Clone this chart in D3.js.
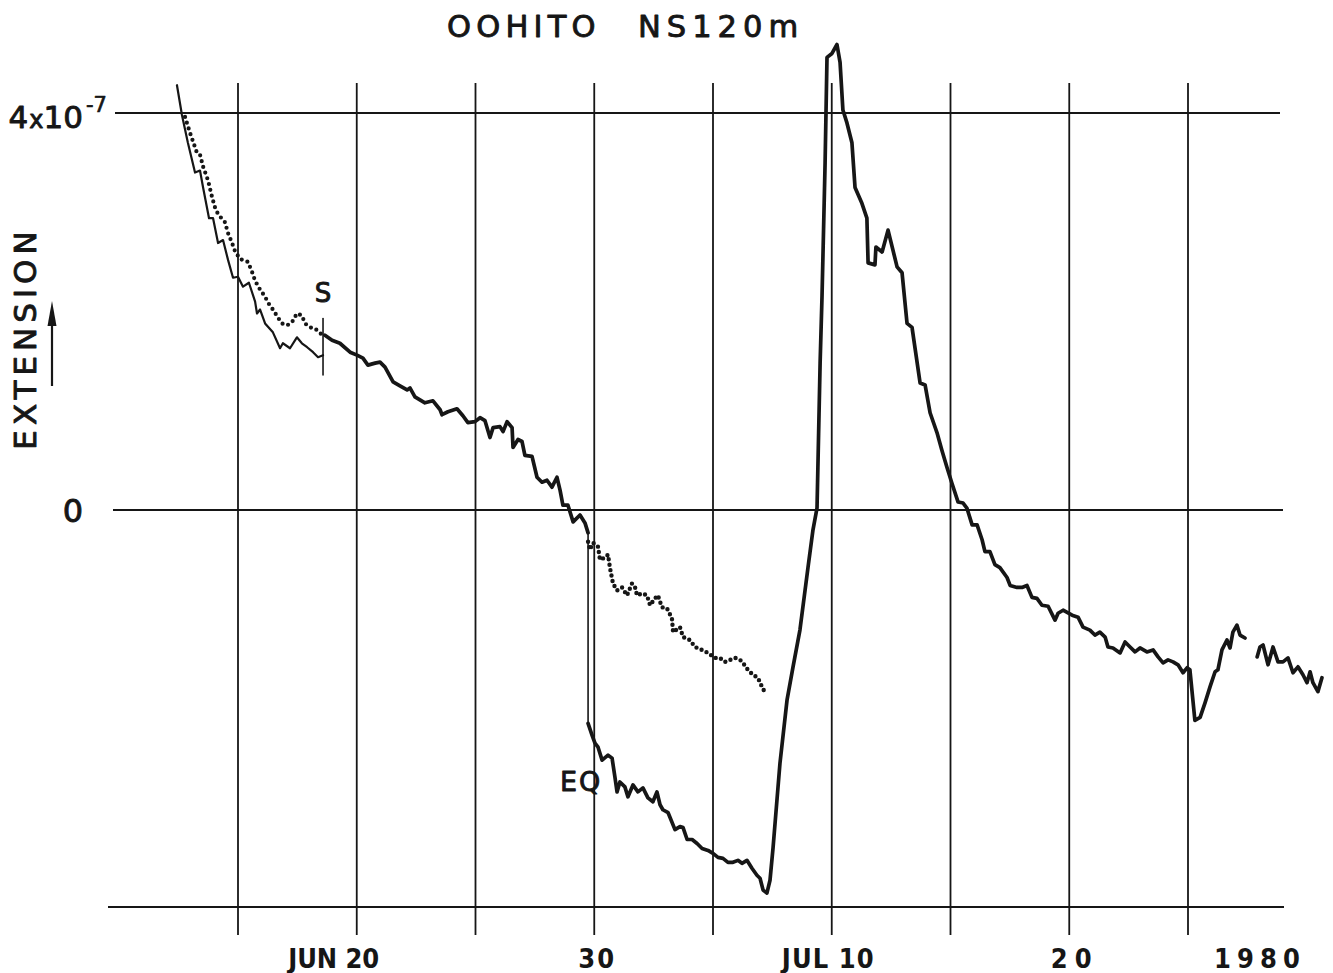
<!DOCTYPE html>
<html><head><meta charset="utf-8">
<script src="https://cdn.jsdelivr.net/npm/d3@7"></script>
<style>body{margin:0;background:#fff} svg{display:block}</style>
</head><body>
<svg id="c" width="1333" height="973"></svg>
<script>
// ---- DATA (t = day counted from JUN 1, 1980; value in units of 1e-7 strain) ----
const gridDays = [15, 20, 25, 30, 35, 40, 45, 50, 55];
const yGridValues = [4, 0, -4];
const xLabelDays = [20, 30, 40, 50];
const xLabels = ["JUN 20", "30", "JUL 10", "20"];
const yearLabel = "1980";
const title = ["OOHITO", "NS120m"];
const yLabel = "EXTENSION";

// thin solid trace before the S mark
const rawBefore = [
  [12.43,4.28],[12.64,3.98],[12.89,3.70],[13.19,3.40],[13.40,3.42],[13.53,3.25],[13.78,2.94],
  [13.95,2.94],[14.16,2.69],[14.37,2.72],[14.58,2.52],[14.79,2.34],[15.00,2.35],[15.21,2.25],
  [15.46,2.29],[15.72,2.10],[15.80,1.98],[15.93,2.02],[16.14,1.88],[16.47,1.79],[16.77,1.63],
  [16.89,1.68],[17.19,1.63],[17.48,1.74],[17.69,1.68],[17.91,1.64],[18.16,1.59],[18.37,1.54],[18.58,1.56]
];
// dotted trace before the S mark
const dottedBefore = [
  [12.77,3.96],[12.98,3.80],[13.27,3.60],[13.40,3.58],[13.53,3.46],[13.74,3.32],[13.91,3.15],
  [14.03,3.05],[14.16,2.98],[14.45,2.90],[14.58,2.79],[14.75,2.69],[14.87,2.61],[15.08,2.53],
  [15.42,2.50],[15.59,2.40],[15.72,2.31],[15.93,2.22],[16.14,2.15],[16.26,2.09],[16.47,2.02],
  [16.68,1.94],[16.85,1.88],[17.06,1.86],[17.27,1.89],[17.48,1.98],[17.69,1.96],[17.82,1.88],
  [18.03,1.84],[18.24,1.83],[18.45,1.78],[18.66,1.76]
];
// thick solid trace from S mark to the earthquake step
const mainA = [
  [18.66,1.76],[18.96,1.71],[19.29,1.68],[19.72,1.59],[20.01,1.56],[20.26,1.53],[20.47,1.46],
  [20.77,1.48],[20.98,1.49],[21.19,1.44],[21.53,1.29],[21.82,1.25],[22.12,1.21],[22.24,1.23],
  [22.45,1.14],[22.66,1.11],[22.87,1.08],[23.21,1.10],[23.51,1.01],[23.59,0.96],[23.84,0.99],
  [24.22,1.02],[24.47,0.95],[24.68,0.88],[24.98,0.89],[25.19,0.93],[25.40,0.90],[25.61,0.73],
  [25.74,0.83],[26.03,0.84],[26.16,0.79],[26.33,0.89],[26.54,0.83],[26.58,0.63],[26.79,0.71],
  [26.96,0.69],[27.08,0.55],[27.38,0.54],[27.59,0.33],[27.80,0.28],[28.01,0.30],[28.22,0.23],
  [28.43,0.33],[28.56,0.20],[28.68,0.05],[28.89,0.05],[29.11,-0.12],[29.40,-0.05],[29.61,-0.13],[29.74,-0.23]
];
// coseismic step
const eqStep = [[29.74,-0.23],[29.74,-2.15]];
// thick solid trace after the earthquake
const mainB = [
  [29.74,-2.15],[29.91,-2.27],[30.03,-2.35],[30.16,-2.39],[30.33,-2.52],[30.58,-2.47],[30.75,-2.50],
  [30.87,-2.69],[30.96,-2.84],[31.08,-2.74],[31.29,-2.79],[31.42,-2.89],[31.63,-2.77],[31.84,-2.84],
  [32.05,-2.80],[32.26,-2.90],[32.47,-2.94],[32.64,-2.84],[32.77,-2.97],[32.89,-3.02],[33.11,-3.05],
  [33.40,-3.22],[33.61,-3.19],[33.74,-3.20],[33.91,-3.32],[34.12,-3.32],[34.33,-3.36],[34.54,-3.41],
  [34.79,-3.43],[35.00,-3.46],[35.21,-3.50],[35.42,-3.51],[35.63,-3.55],[35.84,-3.55],[36.05,-3.53],
  [36.22,-3.56],[36.43,-3.53],[36.64,-3.61],[36.85,-3.68],[36.98,-3.71],[37.11,-3.83],[37.27,-3.86],
  [37.40,-3.73],[37.53,-3.40],[37.82,-2.55],[38.12,-1.91],[38.37,-1.58],[38.66,-1.21],[39.00,-0.58],
  [39.21,-0.20],[39.38,0.02],[39.51,1.48],[39.59,2.15],[39.72,3.50],[39.80,4.56],[40.01,4.60],
  [40.22,4.69],[40.35,4.51],[40.47,4.03],[40.64,3.90],[40.85,3.70],[40.98,3.25],[41.27,3.09],
  [41.48,2.94],[41.53,2.49],[41.82,2.47],[41.86,2.65],[42.12,2.60],[42.37,2.82],[42.75,2.45],
  [42.96,2.39],[43.17,1.88],[43.38,1.84],[43.72,1.28],[43.93,1.26],[44.14,0.98],[44.43,0.78],
  [44.64,0.60],[44.85,0.43],[45.06,0.27],[45.32,0.08],[45.53,0.07],[45.69,0.02],[45.91,-0.15],
  [46.12,-0.15],[46.33,-0.30],[46.45,-0.42],[46.66,-0.42],[46.87,-0.55],[47.08,-0.58],[47.38,-0.68],
  [47.51,-0.76],[47.80,-0.78],[48.01,-0.78],[48.22,-0.76],[48.43,-0.88],[48.64,-0.89],[48.85,-0.96],
  [49.11,-0.97],[49.40,-1.11],[49.53,-1.04],[49.74,-1.01],[50.12,-1.06],[50.37,-1.08],[50.58,-1.18],
  [50.87,-1.21],[51.08,-1.26],[51.29,-1.23],[51.51,-1.28],[51.63,-1.38],[51.84,-1.39],[52.14,-1.44],
  [52.35,-1.33],[52.56,-1.38],[52.77,-1.43],[52.98,-1.39],[53.27,-1.43],[53.53,-1.41],[53.74,-1.48],
  [53.95,-1.54],[54.16,-1.51],[54.37,-1.53],[54.58,-1.56],[54.79,-1.64],[54.96,-1.59],[55.08,-1.61],
  [55.29,-2.12],[55.51,-2.09],[55.72,-1.94],[55.93,-1.78],[56.14,-1.63],[56.26,-1.61],[56.43,-1.41],
  [56.64,-1.31],[56.77,-1.39],[56.89,-1.23],[57.06,-1.16],[57.19,-1.26],[57.40,-1.29]
];
// last piece after the gap
const mainC = [
  [57.91,-1.48],[58.03,-1.38],[58.16,-1.36],[58.37,-1.56],[58.58,-1.38],[58.79,-1.53],[59.00,-1.53],
  [59.21,-1.49],[59.42,-1.64],[59.63,-1.58],[59.84,-1.66],[60.01,-1.74],[60.14,-1.63],[60.26,-1.74],
  [60.47,-1.83],[60.64,-1.69]
];
// dotted trace after the earthquake
const dottedAfter = [
  [29.74,-0.32],[29.82,-0.40],[29.95,-0.33],[30.16,-0.37],[30.24,-0.50],[30.45,-0.48],[30.58,-0.45],
  [30.66,-0.58],[30.79,-0.74],[30.96,-0.81],[31.17,-0.78],[31.38,-0.86],[31.59,-0.74],[31.72,-0.78],
  [31.80,-0.86],[32.01,-0.84],[32.22,-0.86],[32.35,-0.96],[32.56,-0.89],[32.68,-0.86],[32.85,-0.98],
  [33.06,-0.99],[33.27,-1.09],[33.32,-1.23],[33.61,-1.18],[33.74,-1.28],[34.03,-1.31],[34.24,-1.38],
  [34.54,-1.41],[34.79,-1.44],[35.08,-1.49],[35.29,-1.49],[35.51,-1.53],[35.72,-1.51],[35.93,-1.49],
  [36.14,-1.51],[36.26,-1.54],[36.47,-1.61],[36.68,-1.66],[36.89,-1.69],[37.06,-1.78],[37.19,-1.84]
];
// S marker bar
const sMark = [[18.58,1.93],[18.58,1.36]];
const sLabel = {t:18.58, v:2.1, text:"S"};
const eqLabel = {t:29.45, v:-2.83, text:"EQ"};

// ---- DRAWING ----
const svg = d3.select("#c");
const ink = "#161616";
const day = t => new Date(Date.UTC(1980, 5, 1) + (t - 1) * 864e5);
const x = d3.scaleUtc().domain([day(15), day(55)]).range([238, 1188]);
const y = d3.scaleLinear().domain([-4, 4]).range([907, 113]);
const X = t => x(day(t));

svg.append("rect").attr("width",1333).attr("height",973).attr("fill","#fff");

// horizontal grid lines
const hExtent = {"4":[115,1280], "0":[113,1283], "-4":[108,1284]};
svg.append("g").selectAll("line").data(yGridValues).join("line")
  .attr("x1", d => hExtent[d][0]).attr("x2", d => hExtent[d][1])
  .attr("y1", d => y(d)).attr("y2", d => y(d))
  .attr("stroke", ink).attr("stroke-width", 1.9);

// vertical grid lines
svg.append("g").selectAll("line").data(gridDays).join("line")
  .attr("x1", d => X(d)).attr("x2", d => X(d))
  .attr("y1", 83).attr("y2", 935)
  .attr("stroke", ink).attr("stroke-width", 1.8);

const line = d3.line().x(d => X(d[0])).y(d => y(d[1])).curve(d3.curveLinear);

function path(data, w, dash){
  const p = svg.append("path").datum(data).attr("d", line)
    .attr("fill","none").attr("stroke", ink).attr("stroke-width", w)
    .attr("stroke-linejoin","round").attr("stroke-linecap","round");
  if (dash) p.attr("stroke-dasharray", dash);
  return p;
}
path(rawBefore, 2.2);
path(dottedBefore, 4.2, "0 6");
path(mainA, 3.7);
path(eqStep, 1.6);
path(mainB, 3.7);
path(mainC, 3.7);
path(dottedAfter, 4.4, "0 5.5");
path(sMark, 1.6);

const font = "'DejaVu Sans', 'Noto Sans', sans-serif";
function letter(sel, sw){ return sel.attr("font-family",font).attr("fill",ink)
  .attr("stroke",ink).attr("stroke-width",sw).attr("stroke-linejoin","round"); }

letter(svg.append("text"), 0.9).attr("x", X(sLabel.t)).attr("y", y(sLabel.v))
  .attr("text-anchor","middle").attr("font-size",26).text(sLabel.text);
letter(svg.append("text"), 0.9).attr("x", X(eqLabel.t)).attr("y", y(eqLabel.v))
  .attr("text-anchor","middle").attr("font-size",27)
  .attr("letter-spacing",2).text(eqLabel.text);

// title
letter(svg.append("text"), 0.9).attr("x",447).attr("y",37).attr("font-size",30.5)
  .attr("letter-spacing",5.2).text(title[0]);
letter(svg.append("text"), 0.9).attr("x",638).attr("y",37).attr("font-size",30.5)
  .attr("letter-spacing",6).text(title[1]);

// y tick labels
const yl = letter(svg.append("text"), 0.9).attr("x",83).attr("y",128).attr("text-anchor","end")
  .attr("font-size",31);
yl.append("tspan").text("4");
yl.append("tspan").attr("font-size",24).attr("dx",1).text("x");
yl.append("tspan").text("10");
letter(svg.append("text"), 0.7).attr("x",86).attr("y",112).attr("font-size",21).text("-7");
letter(svg.append("text"), 0.9).attr("x",73).attr("y",y(0)+12).attr("text-anchor","middle")
  .attr("font-size",32).text("0");

// y axis title + arrow
letter(svg.append("text"), 0.9).attr("transform","translate(36,338) rotate(-90)")
  .attr("text-anchor","middle").attr("font-size",31)
  .attr("letter-spacing",5).text(yLabel);
svg.append("line").attr("x1",52).attr("x2",52).attr("y1",386).attr("y2",318)
  .attr("stroke",ink).attr("stroke-width",2.2);
svg.append("path").attr("d","M52,301 L47.5,326 L56.5,326 Z").attr("fill",ink);

// x labels
const bfont = "'Liberation Sans Narrow', 'DejaVu Sans Condensed', 'Liberation Sans', sans-serif";
const xLabelDx = [-23, 2, -4, 2];
const xLabelLen = [91, 36, 92, 41];
svg.append("g").selectAll("text").data(xLabels).join("text")
  .attr("x", (d,i) => X(xLabelDays[i]) + xLabelDx[i]).attr("y", 968)
  .attr("text-anchor","middle").attr("font-family",bfont).attr("font-weight","bold")
  .attr("font-size",27).attr("fill",ink)
  .attr("textLength",(d,i)=>xLabelLen[i]).attr("lengthAdjust","spacing")
  .text(d => d);
svg.append("text").attr("x",1257).attr("y",968).attr("text-anchor","middle")
  .attr("font-family",bfont).attr("font-weight","bold").attr("font-size",27).attr("fill",ink)
  .attr("textLength",86).attr("lengthAdjust","spacing").text(yearLabel);
</script>
</body></html>
